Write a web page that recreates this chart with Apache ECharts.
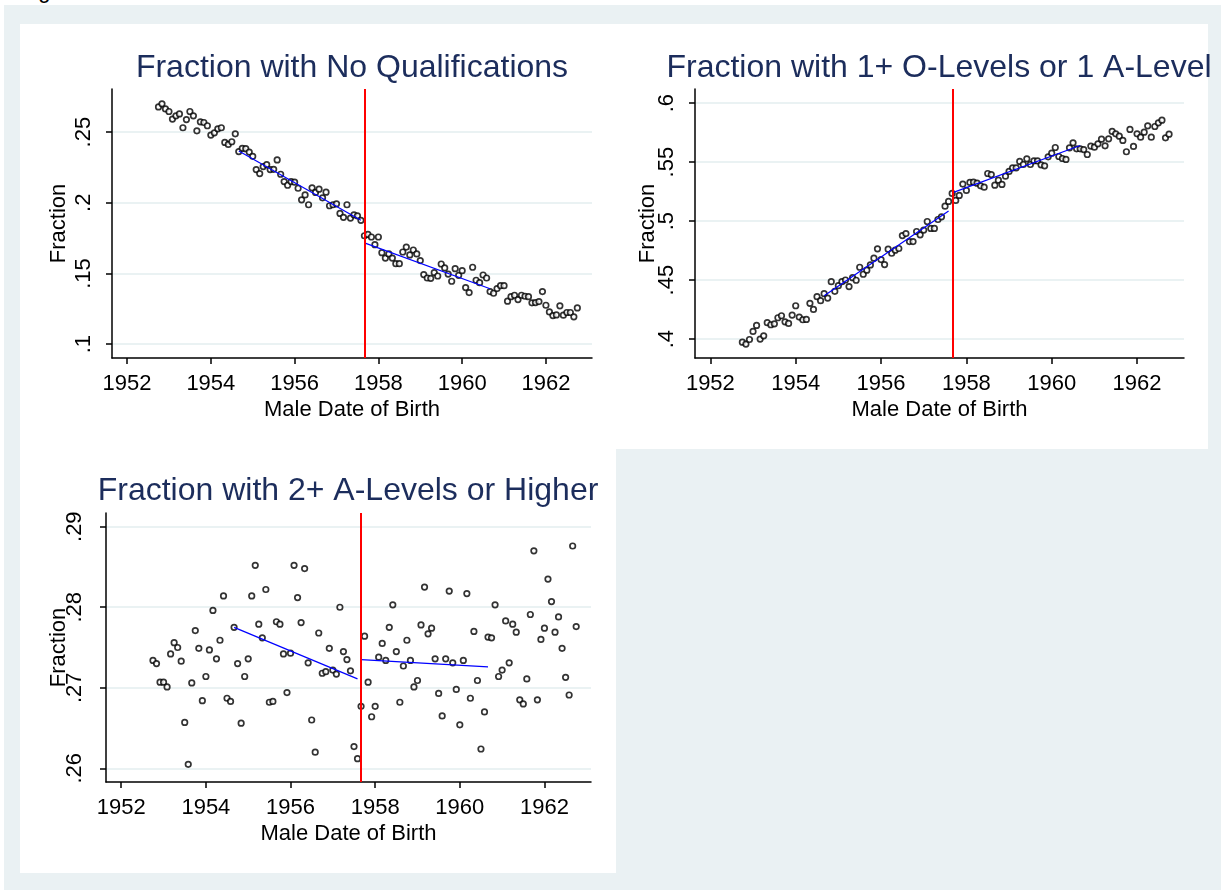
<!DOCTYPE html>
<html>
<head>
<meta charset="utf-8">
<script src="https://cdn.jsdelivr.net/npm/echarts@6/dist/echarts.min.js"></script>
<style>
  html, body { margin: 0; padding: 0; background: #ffffff; overflow: hidden; }
  #bg { position: absolute; left: 4px; top: 5px; width: 1217px; height: 885px; background: #eaf1f3; }
  .panel { position: absolute; background: #ffffff; }
  #fig { position: absolute; left: 20px; top: -22px; font: 22px "Liberation Sans", Arial, sans-serif; color: #000; }
  #chart { position: absolute; left: 0; top: 0; width: 1221px; height: 890px; }
</style>
</head>
<body>
<div id="fig">Figure 1</div>
<div id="bg"></div>
<div class="panel" style="left:20px;top:24px;width:1188px;height:425px;"></div>
<div class="panel" style="left:20px;top:449px;width:596px;height:424px;"></div>
<div id="chart"></div>
<script>
// birth cohorts: monthly, Oct 1952 .. Oct 1962
var firstCohort = 1952.75;
var cutoff = 1957.667;

var yearTicks = [1952, 1954, 1956, 1958, 1960, 1962];
var ticksNoQual = [0.1, 0.15, 0.2, 0.25];
var ticksOLevel = [0.4, 0.45, 0.5, 0.55, 0.6];
var ticksALevel = [0.26, 0.27, 0.28, 0.29];

var noQual = [
  0.2678, 0.2700, 0.2664, 0.2646, 0.2592, 0.2615, 0.2629, 0.2531, 0.2589, 0.2646,
  0.2615, 0.2509, 0.2573, 0.2568, 0.2545, 0.2479, 0.2495, 0.2523, 0.2531, 0.2427,
  0.2413, 0.2432, 0.2488, 0.2362, 0.2385, 0.2383, 0.2359, 0.2329, 0.2235, 0.2207,
  0.2256, 0.2270, 0.2235, 0.2237, 0.2303, 0.2202, 0.2150, 0.2124, 0.2150, 0.2146,
  0.2103, 0.2021, 0.2056, 0.1986, 0.2106, 0.2073, 0.2096, 0.2035, 0.2075, 0.1979,
  0.1986, 0.1993, 0.1925, 0.1897, 0.1986, 0.1892, 0.1915, 0.1908, 0.1876, 0.1767,
  0.1776, 0.1758, 0.1704, 0.1758, 0.1647, 0.1609, 0.1638, 0.1609, 0.1569, 0.1569,
  0.1652, 0.1687, 0.1631, 0.1666, 0.1638, 0.1591, 0.1492, 0.1468, 0.1466, 0.1506,
  0.1482, 0.1567, 0.1539, 0.1496, 0.1445, 0.1534, 0.1487, 0.1520, 0.1400, 0.1365,
  0.1544, 0.1452, 0.1435, 0.1489, 0.1468, 0.1372, 0.1360, 0.1393, 0.1414, 0.1414,
  0.1304, 0.1336, 0.1346, 0.1315, 0.1346, 0.1339, 0.1336, 0.1292, 0.1294, 0.1301,
  0.1372, 0.1275, 0.1228, 0.1202, 0.1207, 0.1271, 0.1205, 0.1224, 0.1224, 0.1193,
  0.1256
];

var oLevel = [
  0.3974, 0.3958, 0.3997, 0.4065, 0.4116, 0.4000, 0.4028, 0.4139, 0.4122, 0.4130,
  0.4181, 0.4198, 0.4147, 0.4133, 0.4204, 0.4283, 0.4187, 0.4164, 0.4167, 0.4303,
  0.4252, 0.4360, 0.4326, 0.4385, 0.4348, 0.4487, 0.4405, 0.4453, 0.4487, 0.4501,
  0.4445, 0.4521, 0.4499, 0.4609, 0.4550, 0.4584, 0.4629, 0.4686, 0.4765, 0.4674,
  0.4632, 0.4762, 0.4728, 0.4754, 0.4768, 0.4878, 0.4895, 0.4827, 0.4827, 0.4912,
  0.4884, 0.4924, 0.4997, 0.4938, 0.4938, 0.5014, 0.5037, 0.5127, 0.5167, 0.5235,
  0.5176, 0.5218, 0.5314, 0.5260, 0.5328, 0.5331, 0.5322, 0.5299, 0.5288, 0.5404,
  0.5395, 0.5305, 0.5347, 0.5311, 0.5381, 0.5421, 0.5452, 0.5452, 0.5506, 0.5480,
  0.5528, 0.5480, 0.5511, 0.5511, 0.5477, 0.5469, 0.5545, 0.5576, 0.5624, 0.5548,
  0.5531, 0.5523, 0.5621, 0.5664, 0.5613, 0.5613, 0.5607, 0.5565, 0.5636, 0.5627,
  0.5655, 0.5695, 0.5638, 0.5698, 0.5760, 0.5740, 0.5720, 0.5684, 0.5588, 0.5777,
  0.5633, 0.5740, 0.5712, 0.5754, 0.5808, 0.5712, 0.5802, 0.5833, 0.5856, 0.5706,
  0.5737
];

var aLevel = [
  0.2734, 0.2730, 0.2707, 0.2707, 0.2701, 0.2742, 0.2756, 0.2750, 0.2733, 0.2657,
  0.2605, 0.2706, 0.2771, 0.2749, 0.2684, 0.2714, 0.2747, 0.2796, 0.2736, 0.2759,
  0.2814, 0.2687, 0.2683, 0.2775, 0.2730, 0.2656, 0.2714, 0.2736, 0.2814, 0.2852,
  0.2779, 0.2762, 0.2822, 0.2682, 0.2683, 0.2782, 0.2779, 0.2742, 0.2694, 0.2743,
  0.2852, 0.2812, 0.2781, 0.2848, 0.2731, 0.2660, 0.2620, 0.2768, 0.2718, 0.2720,
  0.2749, 0.2722, 0.2717, 0.2800, 0.2745, 0.2735, 0.2721, 0.2627, 0.2612, 0.2677,
  0.2764, 0.2707, 0.2664, 0.2677, 0.2738, 0.2755, 0.2734, 0.2775, 0.2803, 0.2745,
  0.2682, 0.2727, 0.2759, 0.2734, 0.2701, 0.2709, 0.2778, 0.2825, 0.2767, 0.2774,
  0.2736, 0.2693, 0.2665, 0.2736, 0.2820, 0.2731, 0.2698, 0.2654, 0.2734, 0.2817,
  0.2687, 0.2770, 0.2709, 0.2624, 0.2670, 0.2763, 0.2762, 0.2803, 0.2714, 0.2722,
  0.2783, 0.2731, 0.2779, 0.2769, 0.2685, 0.2680, 0.2711, 0.2791, 0.2870, 0.2685,
  0.2760, 0.2774, 0.2835, 0.2807, 0.2769, 0.2788, 0.2749, 0.2713, 0.2691, 0.2876,
  0.2776
];

// local linear fits either side of the cutoff (start, end)
var fitNoQualLeft = [[1954.667, 0.2367], [1957.583, 0.1877]];
var fitNoQualRight = [[1957.667, 0.1716], [1960.667, 0.1392]];
var fitOLevelLeft = [[1954.667, 0.4367], [1957.583, 0.5085]];
var fitOLevelRight = [[1957.667, 0.5240], [1960.667, 0.5641]];
var fitALevelLeft = [[1954.667, 0.2775], [1957.583, 0.2711]];
var fitALevelRight = [[1957.667, 0.2735], [1960.667, 0.2726]];

var titles = ['Fraction with No Qualifications', 'Fraction with 1+ O-Levels or 1 A-Level', 'Fraction with 2+ A-Levels or Higher'];

var FONT = '"Liberation Sans", Arial, Helvetica, sans-serif';

function points(vals) {
  return vals.map(function (v, i) { return [firstCohort + i / 12, v]; });
}

function xAxisFor(idx) {
  return {
    type: 'value', gridIndex: idx, min: 1951.64, max: 1963.1,
    name: 'Male Date of Birth', nameLocation: 'middle', nameGap: 41,
    nameTextStyle: { fontSize: 22, color: '#000', fontFamily: FONT },
    axisLine: { show: true, onZero: false, lineStyle: { color: '#000', width: 1.5 } },
    axisTick: { show: true, length: 6, customValues: yearTicks, lineStyle: { color: '#000', width: 1.5 } },
    axisLabel: { customValues: yearTicks, margin: 15, fontSize: 22, color: '#000', fontFamily: FONT,
      formatter: function (v) { return String(Math.round(v)); } },
    splitLine: { show: false }
  };
}

function yAxisFor(idx, min, max, ticks, gap, margin) {
  return {
    type: 'value', gridIndex: idx, min: min, max: max,
    name: 'Fraction', nameLocation: 'middle', nameRotate: 90, nameGap: gap,
    nameMoveOverlap: false,
    nameTextStyle: { fontSize: 22, color: '#000', fontFamily: FONT },
    axisLine: { show: true, onZero: false, lineStyle: { color: '#000', width: 1.5 } },
    axisTick: { show: true, length: 6, customValues: ticks, lineStyle: { color: '#000', width: 1.5 } },
    axisLabel: { customValues: ticks, rotate: 90, margin: margin, fontSize: 22, color: '#000', fontFamily: FONT,
      formatter: function (v) { return String(+v.toFixed(4)).replace(/^0\./, '.'); } },
    splitLine: { show: true, lineStyle: { color: '#eaf2f3', width: 2 } }
  };
}

function scatterFor(idx, vals) {
  return {
    type: 'scatter', xAxisIndex: idx, yAxisIndex: idx, data: points(vals),
    symbol: 'circle', symbolSize: 5.5, silent: true,
    itemStyle: { color: '#ffffff', borderColor: '#000', borderWidth: 1.7 },
    markLine: {
      silent: true, symbol: 'none', label: { show: false },
      lineStyle: { color: '#ff0000', width: 2, type: 'solid' },
      data: [{ xAxis: cutoff }]
    },
    z: 3
  };
}

function fitFor(idx, seg) {
  return {
    type: 'line', xAxisIndex: idx, yAxisIndex: idx, data: seg, showSymbol: false, silent: true,
    lineStyle: { color: '#0000ff', width: 1.2 }, z: 4
  };
}

var myChart = echarts.init(document.getElementById('chart'), null, { renderer: 'canvas' });

var option = {
  backgroundColor: 'transparent',
  animation: false,
  grid: [
    { left: 112, top: 89, width: 480, height: 269 },
    { left: 695, top: 89, width: 489, height: 269 },
    { left: 106, top: 513, width: 485, height: 269 }
  ],
  xAxis: [xAxisFor(0), xAxisFor(1), xAxisFor(2)],
  yAxis: [
    yAxisFor(0, 0.0902, 0.2805, ticksNoQual, 42, 17),
    yAxisFor(1, 0.384, 0.612, ticksOLevel, 36, 17),
    yAxisFor(2, 0.2583, 0.2917, ticksALevel, 36, 20)
  ],
  graphic: [
    { type: 'text', x: 352, y: 68, style: { text: titles[0], fill: '#1c2d5c', font: '32px ' + FONT, align: 'center', verticalAlign: 'middle' } },
    { type: 'text', x: 939, y: 68, style: { text: titles[1], fill: '#1c2d5c', font: '32px ' + FONT, align: 'center', verticalAlign: 'middle' } },
    { type: 'text', x: 348, y: 491, style: { text: titles[2], fill: '#1c2d5c', font: '32px ' + FONT, align: 'center', verticalAlign: 'middle' } }
  ],
  series: [
    scatterFor(0, noQual), fitFor(0, fitNoQualLeft), fitFor(0, fitNoQualRight),
    scatterFor(1, oLevel), fitFor(1, fitOLevelLeft), fitFor(1, fitOLevelRight),
    scatterFor(2, aLevel), fitFor(2, fitALevelLeft), fitFor(2, fitALevelRight)
  ]
};

myChart.setOption(option);
</script>
</body>
</html>
